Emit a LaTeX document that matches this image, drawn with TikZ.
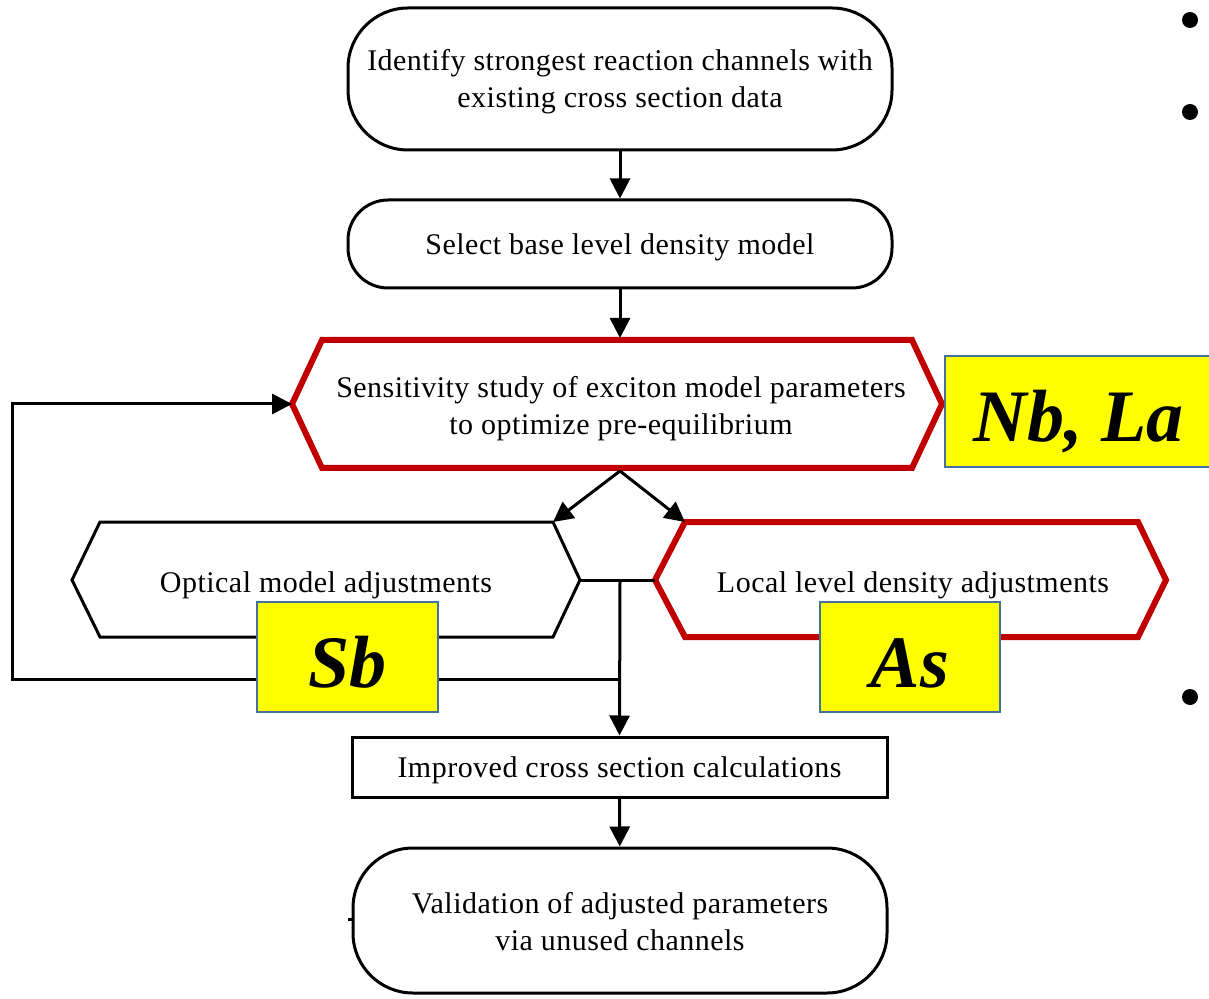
\documentclass[tikz,border=0pt]{standalone}
\usepackage{fontspec}
\setmainfont{Liberation Serif}
\newfontfamily\boxfont[LetterSpace=1.6]{Liberation Serif}
\usetikzlibrary{arrows.meta}
\definecolor{hexred}{HTML}{C00000}
\definecolor{tagyellow}{HTML}{FFFF00}
\definecolor{tagborder}{HTML}{41719C}
\begin{document}
\begin{tikzpicture}[x=0.5pt,y=-0.5pt,
  flowline/.style={line width=1.5pt, draw=black},
  arr/.style={flowline, -{Triangle[length=10pt,width=10pt]}},
  txt/.style={font=\boxfont\fontsize{15}{18.5}\selectfont, align=center, inner sep=0pt},
  roundbox/.style={draw=black, line width=1.5pt, fill=white, inner sep=0pt},
  redhex/.style={draw=hexred, line width=3pt, line join=miter},
  blackhex/.style={draw=black, line width=1.5pt, line join=miter},
  tag/.style={draw=tagborder, line width=0.8pt, fill=tagyellow, inner sep=0pt,
     font=\fontsize{37}{40}\selectfont\bfseries\itshape, text height=30pt, text depth=0pt},
  dot/.style={circle, fill=black, inner sep=0pt, minimum size=8pt}
]
\clip (0,0) rectangle (1209,999);
\fill[white] (0,0) rectangle (1209,999);

% boxes
\node[roundbox, minimum width=272pt, minimum height=71pt, rounded corners=30pt] (identify) at (620,79) {};
\node[txt] (identifyT) at (620,82) {Identify strongest reaction channels with\\existing cross section data};
\node[roundbox, minimum width=272pt, minimum height=44pt, rounded corners=20pt] (select) at (620,244) {};
\node[txt] (selectT) at (620,247) {Select base level density model};
\node[roundbox, minimum width=267.5pt, minimum height=30pt] (improve) at (619.5,767) {};
\node[txt] (improveT) at (619.5,770) {Improved cross section calculations};
\node[roundbox, minimum width=267pt, minimum height=72.5pt, rounded corners=30pt] (validate) at (620,920.5) {};
\node[txt] (validateT) at (620,922) {Validation of adjusted parameters\\via unused channels};

% hexagons
\draw[redhex] (292,404) coordinate (sensL) -- (322,340) -- (912,340) -- (942,404) -- (912,468) -- (322,468) -- cycle;
\coordinate (sensB) at (620,471);
\node[txt] (sens) at (621,408.5) {Sensitivity study of exciton model parameters\\to optimize pre-equilibrium};

\draw[blackhex] (72,580) -- (100,522) -- (553,522) coordinate (optTR) -- (580,580) coordinate (optR) -- (553,637) -- (100,637) -- cycle;
\node[txt] (optical) at (326,585) {Optical model adjustments};

\draw[redhex] (655,580) coordinate (locL) -- (685,522) coordinate (locTL) -- (1138,522) -- (1166,580) -- (1138,637) -- (685,637) -- cycle;
\node[txt] (local) at (913,585) {Local level density adjustments};

% connectors
\draw[arr] (identify) -- (select);
\draw[arr] (select.south) -- (620,338);
\draw[arr] (sensB) -- (optTR);
\draw[arr] (sensB) -- (locTL);
\draw[flowline] (optR) -- (locL);
\coordinate (join) at (620,580);
\coordinate (fb) at (620,679);
\draw[arr] (join) -- (improve.north);
\draw[arr] (fb) -- (12,679) -- (12,404) -- (sensL);
\draw[arr] (improve) -- (validate);
\draw[flowline] (348,919) coordinate (tickA) -- (354,919) coordinate (tickB);

% tags
\node[tag, minimum width=133.5pt, minimum height=55.5pt] (nbla) at (1078.5,411.5) {Nb, La};
\node[tag, minimum width=90.5pt, minimum height=55pt] (sb) at (347.5,657) {Sb};
\node[tag, minimum width=90pt, minimum height=55pt] (as) at (910,657) {As};

% bullets
\node[dot] (b1) at (1190,20) {};
\node[dot] (b2) at (1190,112) {};
\node[dot] (b3) at (1190,697) {};
\end{tikzpicture}
\end{document}
